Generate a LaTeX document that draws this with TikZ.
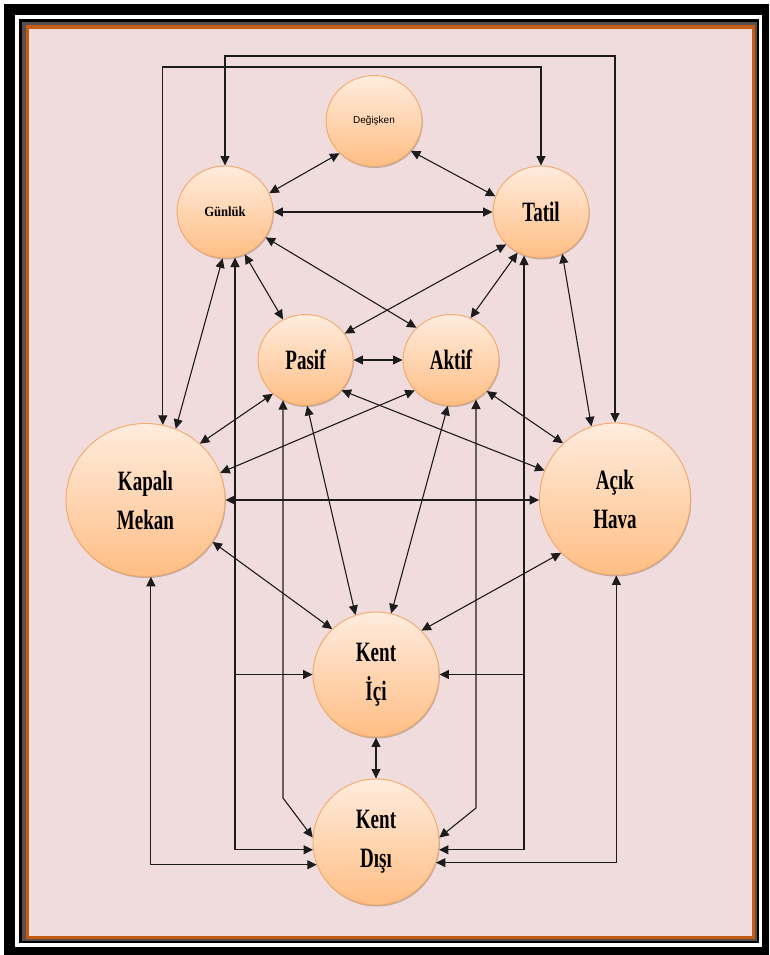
\documentclass[tikz,border=0pt]{standalone}
\usepackage{fontspec}
\setmainfont{Liberation Serif}
\newfontfamily\labfont[FakeStretch=0.68]{Liberation Serif}
\newfontfamily\gunfont[FakeStretch=0.9]{Liberation Serif}
\newfontfamily\degfont{Liberation Sans}
\usetikzlibrary{arrows.meta,shapes.geometric,shadows}
\definecolor{pinkbg}{RGB}{240,220,220}
\definecolor{framebr}{RGB}{197,92,20}
\definecolor{framegr}{RGB}{90,80,75}
\definecolor{nodetop}{RGB}{255,236,222}
\definecolor{nodebot}{RGB}{255,190,132}
\definecolor{nodeedge}{RGB}{244,168,104}
\definecolor{linec}{RGB}{28,28,28}
\begin{document}
\begin{tikzpicture}[x=1pt,y=-1pt,
  bubble/.style={ellipse, draw=nodeedge, line width=0.9pt, top color=nodetop, bottom color=nodebot,
    inner sep=0pt, align=center, text=black,
    drop shadow={shadow xshift=0.8pt, shadow yshift=-1.5pt, opacity=0.22, fill=black}},
  bigtext/.style={font=\labfont\bfseries\fontsize{28}{39}\selectfont},
  conn/.style={draw=linec, line width=1.1pt, {Triangle[length=9.5pt,width=9pt]}-{Triangle[length=9.5pt,width=9pt]}},
  one/.style={draw=linec, line width=1.1pt, -{Triangle[length=9.5pt,width=9pt]}}]
% frame
\useasboundingbox (0,0) rectangle (769,955);
\fill[white] (0,0) rectangle (769,955);
\fill[black] (4,4) rectangle (769,955);
\fill[white] (15,15) rectangle (762,947);
\fill[black] (19,19) rectangle (759,943);
\fill[framegr] (22,22) rectangle (757,941);
\fill[framebr] (25.5,25.5) rectangle (755,939);
\fill[pinkbg] (29,29) rectangle (752,936);
% nodes
\node[bubble, minimum width=96pt, minimum height=91pt] (D) at (374,121) {\degfont\fontsize{10}{12}\selectfont Değişken};
\node[bubble, minimum width=96pt, minimum height=92pt] (G) at (225,212) {\gunfont\bfseries\fontsize{14}{16}\selectfont Günlük};
\node[bubble, bigtext, minimum width=96pt, minimum height=92pt] (T) at (541,212) {Tatil};
\node[bubble, bigtext, minimum width=95pt, minimum height=91pt] (P) at (305.5,360) {Pasif};
\node[bubble, bigtext, minimum width=96pt, minimum height=91pt] (A) at (451,360) {Aktif};
\node[bubble, bigtext, minimum width=159pt, minimum height=153pt] (K) at (145.5,500) {Kapalı\\Mekan};
\node[bubble, bigtext, minimum width=151pt, minimum height=152pt] (H) at (615,499) {Açık\\Hava};
\node[bubble, bigtext, minimum width=126pt, minimum height=125pt] (I) at (376,674.5) {Kent\\İçi};
\node[bubble, bigtext, minimum width=126pt, minimum height=126pt] (O) at (376,842) {Kent\\Dışı};
% waypoints
\coordinate (cTopA) at (350,67);
\coordinate (cTopB) at (400,56);
\coordinate (pw) at (283,798);
\coordinate (aw) at (476,808);
\coordinate (gt) at (235,850);
\coordinate (tt) at (524,850);
% top loops
\draw[conn] (K.77) |- (cTopA) -| (T.north);
\draw[conn] (G.north) |- (cTopB) -| (H.north);
% straight connectors
\draw[conn] (G.23.4) -- (D.223);
\draw[conn] (D.321) -- (T.161);
\draw[conn] (G.east) -- (T.west);
\draw[conn] (G.267.6) -- (K.67.4);
\draw[conn] (G.295.6) -- (P.119.8);
\draw[conn] (G.328) -- (A.137.5);
\draw[conn] (P.34) -- (T.223.5);
\draw[conn] (T.240) -- (A.65.4);
\draw[conn] (T.297.5) -- (H.108.4);
\draw[conn] (P.east) -- (A.west);
\draw[conn] (P.226.3) -- (K.46.8);
\draw[conn] (A.220.5) -- (K.20.6);
\draw[conn] (K.east) -- (K.east -| H.west);
\draw[conn] (P.320) -- (H.158.9);
\draw[conn] (A.319) -- (H.133.5);
\draw[conn] (K.328.5) -- (I.134.7);
\draw[conn] (H.225.5) -- (I.44.1);
\draw[conn] (P.272) -- (I.109);
\draw[conn] (A.266.4) -- (I.76);
\draw[conn] (I.south) -- (O.north);
% routed connectors
\draw[conn] (pw |- P.240.6) -- (pw) -- (O.176);
\draw[conn] (aw |- A.302.8) -- (aw) -- (O.4.3);
\draw[conn] (gt |- G.282.5) |- (O.187);
\draw[one] (gt |- I.west) -- (I.west);
\draw[conn] (tt |- T.249.8) |- (O.353.2);
\draw[one] (tt |- I.east) -- (I.east);
\draw[conn] (K.274.9) |- (O.201.6);
\draw[conn] (H.271) |- (O.341);
\end{tikzpicture}
\end{document}
